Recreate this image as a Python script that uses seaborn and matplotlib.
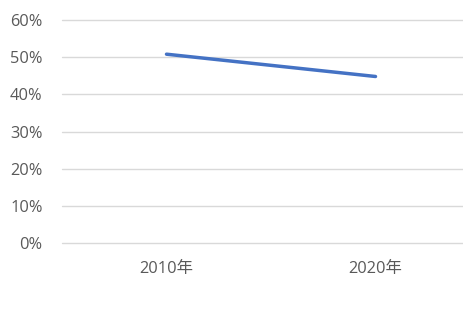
import matplotlib
matplotlib.use("Agg")
import matplotlib.pyplot as plt
import seaborn as sns
import pandas as pd
from matplotlib.ticker import PercentFormatter

categories = ["2010年", "2020年"]
values = [0.508, 0.448]
yticks = [0, 0.1, 0.2, 0.3, 0.4, 0.5, 0.6]

sns.set_theme(style="white")
plt.rcParams['font.family'] = ['Open Sans', 'Noto Sans CJK JP', 'DejaVu Sans']

df = pd.DataFrame({"cat": categories, "val": values})

W, H = 464, 310
fig = plt.figure(figsize=(W / 100, H / 100), dpi=100)
left, right = 62 / W, 480 / W
bottom, top = (H - 243) / H, (H - 20) / H
ax = fig.add_axes([left, bottom, right - left, top - bottom])

sns.lineplot(data=df, x="cat", y="val", ax=ax, color="#4472C4", linewidth=2.5,
             sort=False)

ax.set_xlim(-0.5, 1.5)
ax.set_ylim(0, 0.6)
ax.set_yticks(yticks)
ax.yaxis.set_major_formatter(PercentFormatter(1.0, decimals=0))
ax.grid(axis="y", color="#D9D9D9", linewidth=1)
for gl in ax.get_ygridlines():
    gl.set_clip_on(False)
ax.set_axisbelow(True)
for s in ax.spines.values():
    s.set_visible(False)
ax.set_xlabel("")
ax.set_ylabel("")
ax.tick_params(axis="both", length=0, labelsize=11.8, labelcolor="#595959")
ax.tick_params(axis="y", pad=14)
ax.tick_params(axis="x", pad=13)

fig.savefig("out.png", dpi=100)
